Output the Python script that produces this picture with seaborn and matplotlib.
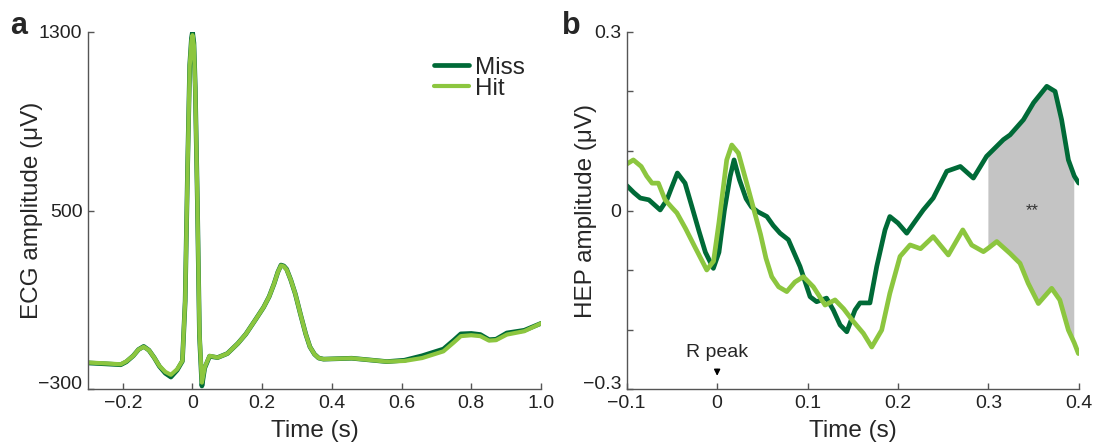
import numpy as np
import matplotlib
matplotlib.use("Agg")
import matplotlib.pyplot as plt
import matplotlib.transforms as mtransforms
import seaborn as sns

# ECG (panel a)
ecg_time = [-0.3, -0.25, -0.206, -0.19, -0.17, -0.155, -0.14, -0.125, -0.11, -0.095,
            -0.078, -0.062, -0.044, -0.029, -0.021, -0.014, -0.008, -0.003, 0.0, 0.004,
            0.008, 0.014, 0.02, 0.027, 0.035, 0.049, 0.072, 0.1, 0.13, 0.153,
            0.18, 0.204, 0.22, 0.234, 0.245, 0.254, 0.262, 0.27, 0.282, 0.295,
            0.31, 0.325, 0.337, 0.35, 0.362, 0.376, 0.457, 0.558, 0.608, 0.659,
            0.72, 0.75, 0.77, 0.8, 0.826, 0.851, 0.871, 0.902, 0.952, 1.0]
ecg_miss = [-182, -186, -190, -177, -150, -122, -108, -125, -158, -197,
            -228, -245, -214, -174, 95, 700, 1150, 1270, 1300, 1250,
            1050, 540, -60, -285, -205, -152, -158, -140, -95, -53,
            10, 67, 115, 172, 225, 256, 252, 238, 190, 127,
            35, -53, -110, -143, -160, -165, -161, -176, -170, -150,
            -120, -80, -52, -50, -55, -78, -76, -48, -36, -5]
ecg_hit = [-180, -184, -188, -175, -150, -122, -110, -125, -158, -195,
           -222, -235, -210, -172, 97, 696, 1146, 1260, 1285, 1240,
           1040, 546, -53, -270, -202, -150, -158, -140, -95, -53,
           10, 67, 115, 172, 225, 254, 250, 236, 190, 127,
           35, -53, -110, -143, -160, -165, -161, -176, -173, -160,
           -130, -90, -62, -58, -62, -82, -80, -55, -40, -5]

# HEP (panel b)
hep_miss_time = [-0.1, -0.092, -0.085, -0.0755, -0.063, -0.0556, -0.05, -0.044, -0.0355, -0.028,
                 -0.02, -0.013, -0.0042, 0.002, 0.008, 0.0143, 0.0187, 0.0246, 0.032, 0.038,
                 0.045, 0.055, 0.062, 0.0696, 0.0788, 0.0917, 0.1028, 0.11, 0.121, 0.1285,
                 0.136, 0.1434, 0.1525, 0.158, 0.169, 0.1765, 0.1857, 0.191, 0.2, 0.2097,
                 0.219, 0.228, 0.239, 0.254, 0.269, 0.2834, 0.298, 0.3, 0.3166, 0.324,
                 0.3388, 0.35, 0.3646, 0.3738, 0.381, 0.3885, 0.395, 0.4]
hep_miss = [0.042, 0.03, 0.021, 0.018, 0.001, 0.018, 0.04, 0.063, 0.046, 0.007,
            -0.035, -0.07, -0.097, -0.07, 0.0, 0.057, 0.085, 0.052, 0.02, 0.006,
            -0.002, -0.01, -0.025, -0.038, -0.049, -0.094, -0.1446, -0.153, -0.147, -0.167,
            -0.192, -0.2034, -0.167, -0.155, -0.155, -0.094, -0.0325, -0.01, -0.021, -0.038,
            -0.018, 0.001, 0.021, 0.066, 0.074, 0.0545, 0.091, 0.094, 0.119, 0.127,
            0.1525, 0.181, 0.2085, 0.2, 0.1525, 0.085, 0.058, 0.046]
hep_hit_time = [-0.1, -0.0927, -0.084, -0.078, -0.072, -0.065, -0.0576, -0.05, -0.0445, -0.035,
                -0.025, -0.0115, -0.004, 0.002, 0.0106, 0.0162, 0.0235, 0.0327, 0.04, 0.048,
                0.054, 0.0604, 0.068, 0.077, 0.086, 0.0954, 0.1064, 0.1194, 0.1304, 0.14,
                0.15, 0.1617, 0.171, 0.182, 0.191, 0.2023, 0.2134, 0.225, 0.239, 0.2557,
                0.2717, 0.2816, 0.2945, 0.3, 0.3093, 0.324, 0.335, 0.344, 0.3553, 0.37,
                0.379, 0.3885, 0.395, 0.3996]
hep_hit = [0.078, 0.085, 0.074, 0.058, 0.046, 0.046, 0.018, 0.005, -0.004, -0.03,
           -0.06, -0.0997, -0.085, -0.02, 0.085, 0.11, 0.0965, 0.046, 0.005, -0.04,
           -0.08, -0.111, -0.128, -0.136, -0.12, -0.111, -0.128, -0.1586, -0.15, -0.165,
           -0.185, -0.206, -0.229, -0.2006, -0.139, -0.077, -0.0577, -0.064, -0.0437, -0.0745,
           -0.0325, -0.058, -0.069, -0.063, -0.052, -0.072, -0.0885, -0.122, -0.156, -0.1305,
           -0.15, -0.2006, -0.222, -0.24]

sig_start, sig_end = 0.3, 0.395

miss_color = "#006a37"
hit_color = "#8cc63f"
axis_color = "#555555"

sns.set_style("ticks")
plt.rcParams["font.family"] = ["Liberation Sans", "DejaVu Sans"]

fig = plt.figure(figsize=(10.98, 4.48), dpi=100)
ax_a = fig.add_axes([0.0801, 0.131, 0.4126, 0.798])
ax_b = fig.add_axes([0.5708, 0.131, 0.4117, 0.798])

# panel a
sns.lineplot(x=ecg_time, y=ecg_miss, ax=ax_a, color=miss_color, lw=3.4, label="Miss")
sns.lineplot(x=ecg_time, y=ecg_hit, ax=ax_a, color=hit_color, lw=3.0, label="Hit")
ax_a.set_xlim(-0.3, 1.0)
ax_a.set_ylim(-300, 1300)
ax_a.set_xticks([-0.2, 0, 0.2, 0.4, 0.6, 0.8, 1.0])
ax_a.set_xticklabels(["\u22120.2", "0", "0.2", "0.4", "0.6", "0.8", "1.0"])
ax_a.set_yticks([-300, 500, 1300])
ax_a.set_yticklabels(["\u2212300", "500", "1300"])
ax_a.set_xlabel("Time (s)", fontsize=17.5, labelpad=6)
ax_a.set_ylabel("ECG amplitude (\u03bcV)", fontsize=17.5)
ax_a.yaxis.set_label_coords(-0.10, 0.5)
ax_a.legend(loc="upper right", bbox_to_anchor=(0.965, 0.93), frameon=False,
            fontsize=17.5, handlelength=1.45, handletextpad=0.25,
            labelspacing=-0.05, borderaxespad=0, borderpad=0)

# panel b
poly_x = []
poly_y = []
for t, v in zip(hep_miss_time, hep_miss):
    if sig_start <= t <= sig_end:
        poly_x.append(t)
        poly_y.append(v)
for t, v in reversed(list(zip(hep_hit_time, hep_hit))):
    if sig_start <= t <= sig_end:
        poly_x.append(t)
        poly_y.append(v)
ax_b.fill(poly_x, poly_y, color="#c4c4c4", lw=0, zorder=1)

sns.lineplot(x=hep_miss_time, y=hep_miss, ax=ax_b, color=miss_color, lw=3.4)
sns.lineplot(x=hep_hit_time, y=hep_hit, ax=ax_b, color=hit_color, lw=3.4)
ax_b.set_xlim(-0.1, 0.4)
ax_b.set_ylim(-0.3, 0.3)
ax_b.set_xticks([-0.1, 0, 0.1, 0.2, 0.3, 0.4])
ax_b.set_xticklabels(["\u22120.1", "0", "0.1", "0.2", "0.3", "0.4"])
ax_b.set_yticks([-0.3, -0.2, -0.1, 0, 0.1, 0.2, 0.3])
ax_b.set_yticklabels(["\u22120.3", "", "", "0", "", "", "0.3"])
ax_b.set_xlabel("Time (s)", fontsize=17.5, labelpad=6)
ax_b.set_ylabel("HEP amplitude (\u03bcV)", fontsize=17.5)
ax_b.yaxis.set_label_coords(-0.066, 0.5)
ax_b.text(0.349, 0.0, "**", fontsize=12, color="#333333", ha="center", va="center")
ax_b.text(0.0, -0.238, "R peak", fontsize=14, ha="center", va="center")
ax_b.annotate("", xy=(0.0, -0.282), xytext=(0.0, -0.262),
              arrowprops=dict(arrowstyle="-|>", color="black", lw=1, mutation_scale=9))

for ax in (ax_a, ax_b):
    sns.despine(ax=ax)
    for side in ("left", "bottom"):
        ax.spines[side].set_color(axis_color)
        ax.spines[side].set_linewidth(1.0)
    ax.tick_params(direction="in", length=4, width=1, color=axis_color,
                   labelsize=14, labelcolor="#222222", pad=4)
    # lift the lowest y label a little, as in the original
    low = ax.get_yticklabels()[0]
    low.set_transform(low.get_transform() +
                      mtransforms.ScaledTranslation(0, 5 / 72, fig.dpi_scale_trans))

fig.text(0.009, 0.925, "a", fontsize=22, fontweight="bold")
fig.text(0.512, 0.925, "b", fontsize=22, fontweight="bold")

fig.savefig("out.png", dpi=100)
